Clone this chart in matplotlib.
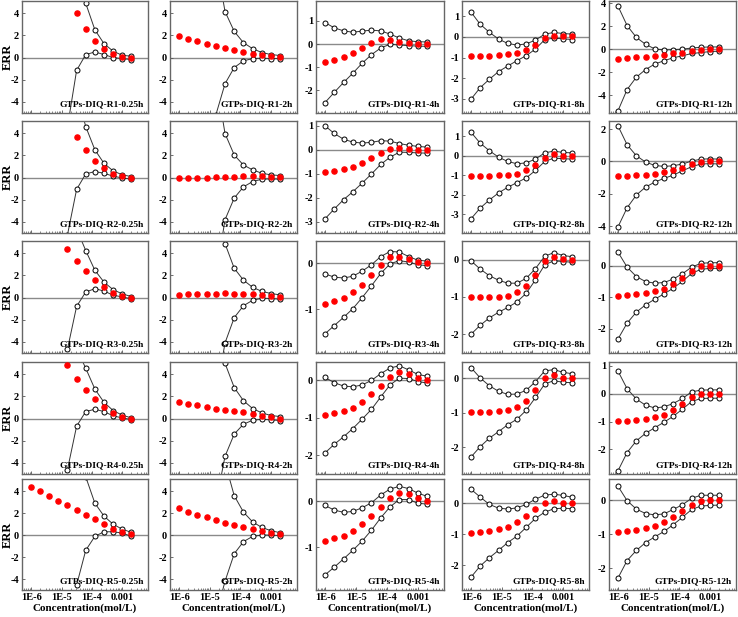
import matplotlib.pyplot as plt
from matplotlib.ticker import MultipleLocator, LogLocator, NullFormatter, FixedLocator, FixedFormatter
import numpy as np

N = np.nan

# dilution series (mol/L)
conc = [9.77e-7, 1.95e-6, 3.91e-6, 7.81e-6, 1.56e-5, 3.13e-5,
        6.25e-5, 1.25e-4, 2.5e-4, 5e-4, 1e-3, 2e-3]

# ---- R1 ----
r1_025h_err = [N, N, N, N, N, 4.0, 2.54, 1.52, 0.78, 0.36, 0.06, -0.03]
r1_025h_up = [N, N, N, N, N, 7.0, 4.9, 2.5, 1.25, 0.57, 0.2, 0.12]
r1_025h_lo = [N, N, N, N, -6.3, -1.16, 0.27, 0.5, 0.27, 0.0, -0.1, -0.18]
r1_2h_err = [1.9, 1.67, 1.46, 1.25, 1.07, 0.9, 0.69, 0.51, 0.36, 0.21, 0.12, 0.06]
r1_2h_up = [N, N, N, N, 8.9, 4.15, 2.36, 1.34, 0.8, 0.45, 0.27, 0.18]
r1_2h_lo = [N, N, N, N, -5.2, -2.36, -0.9, -0.3, -0.09, -0.06, -0.09, -0.09]
r1_4h_err = [-0.79, -0.7, -0.56, -0.39, -0.17, 0.06, 0.2, 0.19, 0.09, 0.03, 0.0, 0.0]
r1_4h_up = [0.93, 0.7, 0.57, 0.51, 0.56, 0.6, 0.57, 0.43, 0.26, 0.14, 0.1, 0.09]
r1_4h_lo = [-2.53, -2.09, -1.66, -1.26, -0.83, -0.46, -0.17, -0.01, -0.04, -0.07, -0.09, -0.1]
r1_8h_err = [-0.93, -0.93, -0.92, -0.88, -0.85, -0.78, -0.64, -0.38, -0.06, 0.06, 0.03, 0.03]
r1_8h_up = [1.2, 0.61, 0.22, -0.11, -0.32, -0.4, -0.34, -0.16, 0.13, 0.21, 0.16, 0.13]
r1_8h_lo = [-3.02, -2.46, -2.05, -1.68, -1.41, -1.15, -0.91, -0.59, -0.14, -0.06, -0.1, -0.13]
r1_12h_err = [-0.83, -0.77, -0.71, -0.66, -0.57, -0.49, -0.37, -0.29, -0.14, -0.06, 0.0, 0.0]
r1_12h_up = [3.77, 2.06, 1.03, 0.43, 0.03, -0.06, -0.03, 0.0, 0.11, 0.17, 0.2, 0.2]
r1_12h_lo = [-5.37, -3.51, -2.43, -1.77, -1.29, -1.0, -0.74, -0.57, -0.37, -0.29, -0.2, -0.17]

# ---- R2 ----
r2_025h_err = [N, N, N, N, N, 3.67, 2.48, 1.52, 0.84, 0.36, 0.12, 0.0]
r2_025h_up = [N, N, N, N, N, 7.7, 4.6, 2.5, 1.28, 0.6, 0.24, 0.09]
r2_025h_lo = [N, N, N, N, -5.2, -1.07, 0.33, 0.54, 0.39, 0.12, -0.03, -0.15]
r2_2h_err = [-0.08, -0.06, -0.04, -0.01, 0.02, 0.05, 0.08, 0.11, 0.13, 0.12, 0.09, 0.05]
r2_2h_up = [N, N, N, N, 9.0, 3.97, 2.03, 1.13, 0.69, 0.39, 0.24, 0.18]
r2_2h_lo = [N, N, N, N, -9.0, -3.8, -1.85, -0.84, -0.36, -0.15, -0.12, -0.15]
r2_4h_err = [-0.93, -0.89, -0.82, -0.71, -0.56, -0.35, -0.14, 0.03, 0.06, 0.03, 0.01, 0.01]
r2_4h_up = [1.0, 0.68, 0.44, 0.32, 0.28, 0.31, 0.38, 0.36, 0.26, 0.19, 0.14, 0.11]
r2_4h_lo = [-2.88, -2.47, -2.08, -1.75, -1.39, -1.01, -0.61, -0.31, -0.1, -0.11, -0.13, -0.14]
r2_8h_err = [-1.01, -1.01, -1.01, -0.99, -0.97, -0.91, -0.75, -0.46, -0.09, 0.07, 0.0, 0.0]
r2_8h_up = [1.21, 0.65, 0.26, -0.07, -0.29, -0.41, -0.36, -0.17, 0.15, 0.24, 0.17, 0.15]
r2_8h_lo = [-3.23, -2.68, -2.26, -1.9, -1.61, -1.37, -1.13, -0.75, -0.29, -0.12, -0.15, -0.17]
r2_12h_err = [-0.93, -0.91, -0.87, -0.82, -0.76, -0.68, -0.54, -0.39, -0.16, -0.02, 0.0, 0.0]
r2_12h_up = [2.21, 1.03, 0.35, -0.04, -0.25, -0.31, -0.27, -0.16, 0.02, 0.14, 0.16, 0.14]
r2_12h_lo = [-4.06, -2.87, -2.08, -1.59, -1.28, -1.05, -0.85, -0.58, -0.33, -0.16, -0.14, -0.16]

# ---- R3 ----
r3_025h_err = [N, N, N, N, 4.36, 3.26, 2.37, 1.6, 0.98, 0.41, 0.18, 0.0]
r3_025h_up = [N, N, N, N, N, 6.2, 4.24, 2.46, 1.39, 0.71, 0.33, 0.09]
r3_025h_lo = [N, N, N, N, -4.68, -0.8, 0.5, 0.8, 0.59, 0.21, 0.06, -0.12]
r3_2h_err = [0.27, 0.3, 0.33, 0.36, 0.36, 0.39, 0.36, 0.36, 0.3, 0.24, 0.15, 0.03]
r3_2h_up = [N, N, N, N, N, 4.86, 2.64, 1.57, 0.92, 0.56, 0.36, 0.24]
r3_2h_lo = [N, N, N, N, -8.9, -4.09, -1.81, -0.74, -0.24, -0.06, -0.09, -0.15]
r3_4h_err = [-0.88, -0.83, -0.75, -0.63, -0.48, -0.26, -0.04, 0.13, 0.15, 0.09, 0.03, 0.01]
r3_4h_up = [-0.23, -0.3, -0.32, -0.28, -0.17, -0.03, 0.15, 0.26, 0.25, 0.15, 0.07, 0.05]
r3_4h_lo = [-1.54, -1.36, -1.18, -0.99, -0.75, -0.49, -0.22, -0.01, 0.06, 0.03, -0.03, -0.05]
r3_8h_err = [-1.01, -1.01, -1.0, -0.99, -0.96, -0.87, -0.71, -0.41, -0.03, 0.07, 0.02, 0.0]
r3_8h_up = [-0.03, -0.25, -0.43, -0.55, -0.63, -0.63, -0.5, -0.24, 0.09, 0.19, 0.11, 0.08]
r3_8h_lo = [-2.0, -1.76, -1.56, -1.41, -1.28, -1.13, -0.9, -0.54, -0.14, -0.03, -0.05, -0.07]
r3_12h_err = [-0.95, -0.94, -0.91, -0.87, -0.8, -0.72, -0.57, -0.38, -0.15, -0.01, 0.0, 0.0]
r3_12h_up = [0.44, -0.04, -0.34, -0.5, -0.55, -0.53, -0.42, -0.25, -0.04, 0.08, 0.1, 0.1]
r3_12h_lo = [-2.33, -1.82, -1.47, -1.24, -1.06, -0.89, -0.71, -0.49, -0.24, -0.11, -0.08, -0.08]

# ---- R4 ----
r4_025h_err = [N, N, N, N, 4.8, 3.55, 2.57, 1.73, 1.04, 0.48, 0.18, 0.0]
r4_025h_up = [N, N, N, N, N, 6.3, 4.54, 2.66, 1.46, 0.72, 0.3, 0.06]
r4_025h_lo = [N, N, N, N, -4.63, -0.69, 0.63, 0.84, 0.63, 0.24, 0.06, -0.09]
r4_2h_err = [1.52, 1.34, 1.19, 1.04, 0.9, 0.78, 0.69, 0.57, 0.42, 0.24, 0.12, 0.0]
r4_2h_up = [N, N, N, N, N, 4.98, 2.8, 1.61, 0.9, 0.51, 0.27, 0.18]
r4_2h_lo = [N, N, N, N, -7.7, -3.4, -1.4, -0.51, -0.15, -0.06, -0.12, -0.18]
r4_4h_err = [-0.94, -0.89, -0.82, -0.74, -0.59, -0.38, -0.15, 0.09, 0.21, 0.15, 0.05, 0.0]
r4_4h_up = [0.07, -0.07, -0.16, -0.18, -0.13, -0.01, 0.17, 0.32, 0.38, 0.27, 0.15, 0.1]
r4_4h_lo = [-1.94, -1.71, -1.51, -1.29, -1.04, -0.78, -0.45, -0.13, 0.05, 0.04, -0.04, -0.08]
r4_8h_err = [-0.99, -0.99, -0.98, -0.95, -0.91, -0.83, -0.65, -0.34, 0.0, 0.1, 0.02, 0.0]
r4_8h_up = [0.31, 0.01, -0.22, -0.38, -0.47, -0.46, -0.35, -0.1, 0.21, 0.25, 0.17, 0.13]
r4_8h_lo = [-2.29, -1.99, -1.74, -1.55, -1.35, -1.19, -0.93, -0.56, -0.17, -0.07, -0.12, -0.13]
r4_12h_err = [-0.98, -0.96, -0.94, -0.89, -0.84, -0.76, -0.6, -0.35, -0.11, -0.01, 0.0, 0.0]
r4_12h_up = [0.82, 0.18, -0.19, -0.41, -0.51, -0.47, -0.35, -0.17, 0.07, 0.13, 0.14, 0.14]
r4_12h_lo = [-2.77, -2.11, -1.69, -1.42, -1.22, -1.02, -0.81, -0.55, -0.28, -0.17, -0.16, -0.16]

# ---- R5 ----
r5_025h_err = [4.33, 4.0, 3.58, 3.14, 2.7, 2.28, 1.81, 1.42, 0.98, 0.59, 0.3, 0.09]
r5_025h_up = [N, N, N, N, N, N, 5.3, 2.9, 1.72, 0.98, 0.53, 0.24]
r5_025h_lo = [N, N, N, N, N, -4.56, -1.39, -0.12, 0.3, 0.3, 0.18, -0.12]
r5_2h_err = [2.45, 2.12, 1.85, 1.61, 1.37, 1.13, 0.95, 0.72, 0.51, 0.33, 0.15, 0.06]
r5_2h_up = [N, N, N, N, N, 6.6, 3.58, 2.09, 1.19, 0.69, 0.39, 0.21]
r5_2h_lo = [N, N, N, N, -7.4, -4.2, -1.7, -0.6, -0.12, 0.0, 0.0, -0.06]
r5_4h_err = [-0.86, -0.81, -0.75, -0.65, -0.49, -0.32, -0.12, 0.08, 0.19, 0.16, 0.07, 0.01]
r5_4h_up = [-0.09, -0.19, -0.24, -0.22, -0.14, -0.03, 0.14, 0.27, 0.33, 0.28, 0.18, 0.11]
r5_4h_lo = [-1.61, -1.44, -1.26, -1.07, -0.87, -0.63, -0.36, -0.12, 0.04, 0.04, -0.04, -0.06]
r5_8h_err = [-0.95, -0.93, -0.9, -0.84, -0.77, -0.61, -0.41, -0.18, -0.01, 0.06, 0.02, 0.0]
r5_8h_up = [0.45, 0.2, -0.04, -0.16, -0.19, -0.15, -0.04, 0.13, 0.26, 0.29, 0.25, 0.19]
r5_8h_lo = [-2.39, -2.03, -1.76, -1.52, -1.27, -1.06, -0.78, -0.49, -0.29, -0.18, -0.16, -0.18]
r5_12h_err = [-0.94, -0.91, -0.87, -0.81, -0.75, -0.65, -0.48, -0.31, -0.13, -0.02, 0.0, 0.0]
r5_12h_up = [0.42, -0.01, -0.26, -0.39, -0.43, -0.4, -0.27, -0.13, 0.06, 0.15, 0.15, 0.15]
r5_12h_lo = [-2.3, -1.78, -1.48, -1.25, -1.08, -0.92, -0.72, -0.5, -0.27, -0.17, -0.15, -0.14]

times = ["0.25h", "2h", "4h", "8h", "12h"]
panels = [
    [(r1_025h_err, r1_025h_up, r1_025h_lo), (r1_2h_err, r1_2h_up, r1_2h_lo),
     (r1_4h_err, r1_4h_up, r1_4h_lo), (r1_8h_err, r1_8h_up, r1_8h_lo),
     (r1_12h_err, r1_12h_up, r1_12h_lo)],
    [(r2_025h_err, r2_025h_up, r2_025h_lo), (r2_2h_err, r2_2h_up, r2_2h_lo),
     (r2_4h_err, r2_4h_up, r2_4h_lo), (r2_8h_err, r2_8h_up, r2_8h_lo),
     (r2_12h_err, r2_12h_up, r2_12h_lo)],
    [(r3_025h_err, r3_025h_up, r3_025h_lo), (r3_2h_err, r3_2h_up, r3_2h_lo),
     (r3_4h_err, r3_4h_up, r3_4h_lo), (r3_8h_err, r3_8h_up, r3_8h_lo),
     (r3_12h_err, r3_12h_up, r3_12h_lo)],
    [(r4_025h_err, r4_025h_up, r4_025h_lo), (r4_2h_err, r4_2h_up, r4_2h_lo),
     (r4_4h_err, r4_4h_up, r4_4h_lo), (r4_8h_err, r4_8h_up, r4_8h_lo),
     (r4_12h_err, r4_12h_up, r4_12h_lo)],
    [(r5_025h_err, r5_025h_up, r5_025h_lo), (r5_2h_err, r5_2h_up, r5_2h_lo),
     (r5_4h_err, r5_4h_up, r5_4h_lo), (r5_8h_err, r5_8h_up, r5_8h_lo),
     (r5_12h_err, r5_12h_up, r5_12h_lo)],
]

# y ranges and tick steps per panel (row, col)
ylims = [
    [(-5, 5.1), (-5, 5.1), (-2.98, 1.86), (-3.68, 1.73), (-5.55, 4.2)],
    [(-5, 5.1), (-5, 5.1), (-3.47, 1.2), (-3.95, 1.78), (-4.43, 2.5)],
    [(-5, 5.1), (-5, 5.1), (-1.96, 0.49), (-2.5, 0.5), (-2.77, 0.79)],
    [(-5, 5.1), (-5, 5.1), (-2.5, 0.48), (-2.78, 0.47), (-2.88, 1.14)],
    [(-5, 5.1), (-5, 5.1), (-1.94, 0.49), (-2.8, 0.78), (-2.65, 0.63)],
]
ysteps = [
    [2, 2, 1, 1, 2],
    [2, 2, 1, 1, 2],
    [2, 2, 1, 1, 1],
    [2, 2, 1, 1, 1],
    [2, 2, 1, 1, 1],
]

plt.rcParams['font.family'] = 'Liberation Serif'
plt.rcParams['font.weight'] = 'bold'

W, H = 738, 617
fig = plt.figure(figsize=(W / 100, H / 100), dpi=100)

col_x = [(22, 148), (170, 297), (316, 444), (462, 589), (609, 736)]
row_y = [(1, 113), (121, 233), (241, 353), (362, 474), (479, 590)]

for r in range(5):
    for c in range(5):
        x0, x1 = col_x[c]
        y0, y1 = row_y[r]
        ax = fig.add_axes([x0 / W, 1 - y1 / H, (x1 - x0) / W, (y1 - y0) / H])
        err, up, lo = panels[r][c]
        ax.axhline(0, color='#8a8a8a', lw=1.0, zorder=1)
        for s in (up, lo):
            ax.plot(conc, s, '-o', color='#333333', lw=0.7, ms=3.6,
                    mfc='white', mec='black', mew=0.7, zorder=2)
        ax.plot(conc, err, 'o', color='red', ms=3.7, mec='red', zorder=3)

        ax.set_xscale('log')
        ax.set_xlim(5e-7, 7e-3)
        ax.set_ylim(*ylims[r][c])
        ax.yaxis.set_major_locator(MultipleLocator(ysteps[r][c]))
        ax.yaxis.set_major_formatter(plt.FuncFormatter(lambda v, p: '%d' % round(v)))
        ax.xaxis.set_major_locator(FixedLocator([1e-6, 1e-5, 1e-4, 1e-3]))
        ax.xaxis.set_minor_locator(LogLocator(base=10, subs=np.arange(2, 10), numticks=20))
        ax.xaxis.set_minor_formatter(NullFormatter())
        if r == 4:
            ax.xaxis.set_major_formatter(FixedFormatter(['1E-6', '1E-5', '1E-4', '0.001']))
            ax.set_xlabel('Concentration(mol/L)', fontsize=8, fontweight='bold', labelpad=1)
        else:
            ax.xaxis.set_major_formatter(NullFormatter())
        ax.tick_params(axis='both', which='major', direction='in', length=2.5,
                       width=0.6, labelsize=7.5, pad=2, color='#555555')
        ax.tick_params(axis='x', which='minor', direction='in', length=1.5,
                       width=0.5, color='#555555')
        for sp in ax.spines.values():
            sp.set_color('#666666')
            sp.set_linewidth(1.0)
        if c == 0:
            fig.text(8 / W, 1 - (y0 + y1) / 2 / H, 'ERR', rotation=90,
                     ha='center', va='center', fontsize=9, fontweight='bold')
        ax.text(0.97, 0.08, 'GTPs-DIQ-R%d-%s' % (r + 1, times[c]),
                transform=ax.transAxes, ha='right', va='center',
                fontsize=6.8, fontweight='bold')

fig.savefig('out.png', dpi=100)
